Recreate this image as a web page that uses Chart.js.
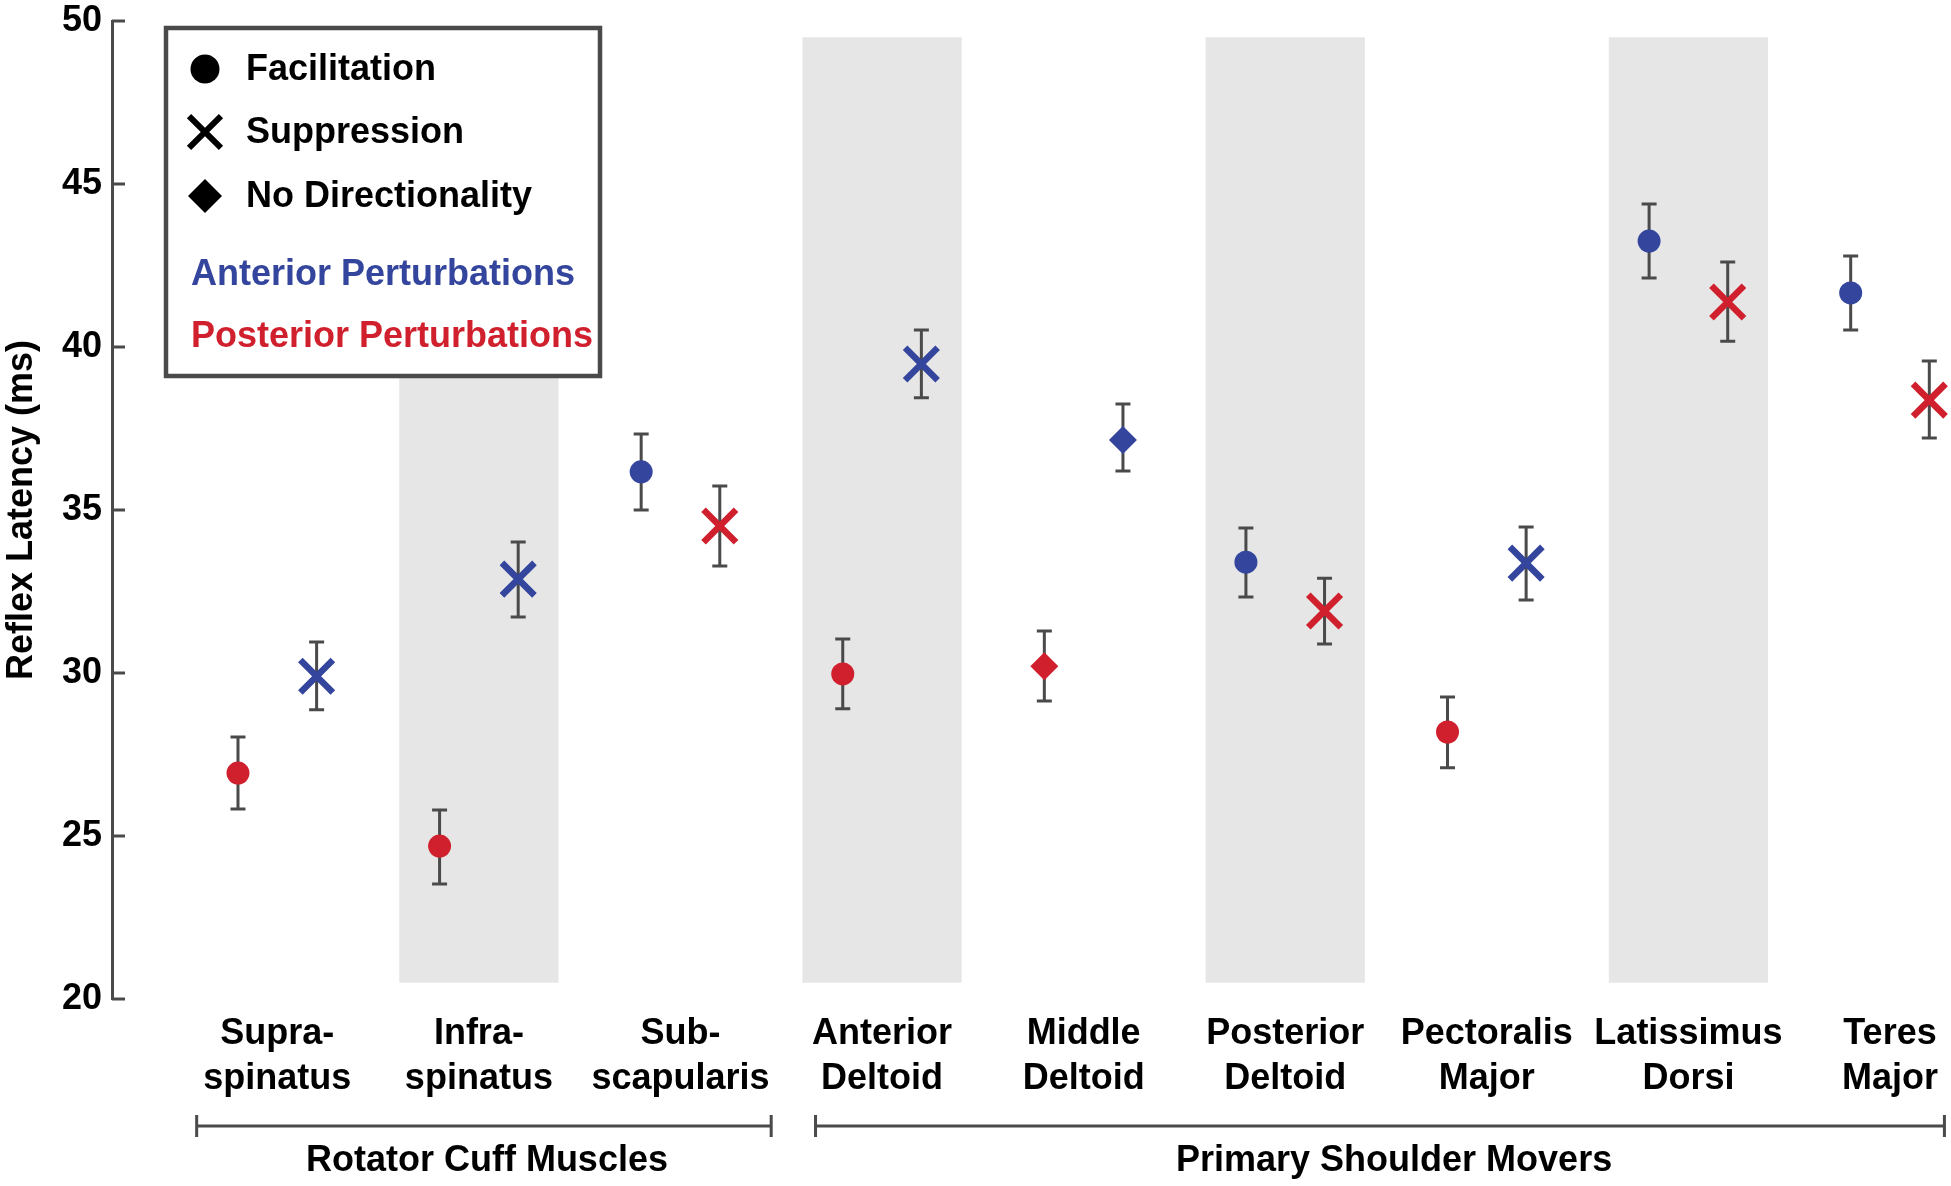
<!DOCTYPE html>
<html>
<head>
<meta charset="utf-8">
<title>Reflex Latency</title>
<script src="https://cdn.jsdelivr.net/npm/chart.js@4.4.1/dist/chart.umd.min.js"></script>
<style>
  html, body { margin: 0; padding: 0; background: #fff; overflow: hidden; }
  #wrap { width: 1951px; height: 1186px; position: relative; }
  canvas { display: block; }
</style>
</head>
<body>
<div id="wrap"><canvas id="latency-chart"></canvas></div>
<script>
var muscles = [["Supra-", "spinatus"], ["Infra-", "spinatus"], ["Sub-", "scapularis"],
  ["Anterior", "Deltoid"], ["Middle", "Deltoid"], ["Posterior", "Deltoid"],
  ["Pectoralis", "Major"], ["Latissimus", "Dorsi"], ["Teres", "Major"]];

// anterior perturbations (blue)
var anteriorLatency = [29.9, 32.88, 36.17, 39.48, 37.15, 33.4, 33.37, 43.25, 41.66];
var anteriorLow     = [28.87, 31.72, 35.0, 38.44, 36.2, 32.33, 32.24, 42.12, 40.52];
var anteriorHigh    = [30.95, 34.02, 37.33, 40.52, 38.25, 34.45, 34.48, 44.39, 42.79];
var anteriorType    = ["sup", "sup", "fac", "sup", "none", "fac", "sup", "fac", "fac"];

// posterior perturbations (red)
var posteriorLatency = [26.93, 24.69, 34.51, 29.97, 30.21, 31.9, 28.19, 41.38, 38.37];
var posteriorLow     = [25.83, 23.53, 33.28, 28.9, 29.14, 30.89, 27.09, 40.18, 37.21];
var posteriorHigh    = [28.04, 25.8, 35.74, 31.04, 31.29, 32.91, 29.26, 42.61, 39.57];
var posteriorType    = ["fac", "fac", "sup", "fac", "none", "sup", "fac", "sup", "sup"];

var yTicks = [20, 25, 30, 35, 40, 45, 50];
var shadedMuscles = [1, 3, 5, 7];
var groupNames = ["Rotator Cuff Muscles", "Primary Shoulder Movers"];
var groupFirst = [0, 3];
var groupLast = [2, 8];

//-------------------------------------------------
var BLUE = "#33459c";
var RED = "#d0202d";
var GREY = "#4a4a4a";
var FONT = '"Liberation Sans", Arial, Helvetica, sans-serif';
var pairOffset = 0.195;

var markerStyle = {
  fac:  { pointStyle: "circle",   radius: 11.5, borderWidth: 0 },
  sup:  { pointStyle: "crossRot", radius: 23,   borderWidth: 6.5 },
  none: { pointStyle: "rectRot",  radius: 14,   borderWidth: 0 }
};

function sideOf(type, isPosterior) {
  if (type == "fac") return -1;
  if (type == "sup") return 1;
  return isPosterior ? -1 : 1;
}

function makeDataset(label, values, low, high, types, color, isPosterior) {
  return {
    label: label,
    data: values.map(function (v, i) {
      return { x: i + sideOf(types[i], isPosterior) * pairOffset, y: v };
    }),
    errLow: low,
    errHigh: high,
    pointStyle: types.map(function (t) { return markerStyle[t].pointStyle; }),
    pointRadius: types.map(function (t) { return markerStyle[t].radius; }),
    pointHoverRadius: types.map(function (t) { return markerStyle[t].radius; }),
    pointBorderWidth: types.map(function (t) { return markerStyle[t].borderWidth; }),
    pointBackgroundColor: color,
    pointBorderColor: color,
    showLine: false,
    clip: false
  };
}

var bandPlugin = {
  id: "bands",
  beforeDatasetsDraw: function (chart) {
    var ctx = chart.ctx, xs = chart.scales.x, ys = chart.scales.y;
    ctx.save();
    ctx.fillStyle = "#e6e6e6";
    shadedMuscles.forEach(function (i) {
      var x0 = xs.getPixelForValue(i - 0.395), x1 = xs.getPixelForValue(i + 0.395);
      var y0 = ys.getPixelForValue(49.5), y1 = ys.getPixelForValue(20.5);
      ctx.fillRect(x0, y0, x1 - x0, y1 - y0);
    });
    ctx.restore();
  }
};

var errorBarPlugin = {
  id: "errorBars",
  beforeDatasetsDraw: function (chart) {
    var ctx = chart.ctx, ys = chart.scales.y;
    ctx.save();
    ctx.strokeStyle = GREY;
    ctx.lineWidth = 3;
    chart.data.datasets.forEach(function (ds, d) {
      var meta = chart.getDatasetMeta(d);
      meta.data.forEach(function (pt, j) {
        var yl = ys.getPixelForValue(ds.errLow[j]);
        var yh = ys.getPixelForValue(ds.errHigh[j]);
        ctx.beginPath();
        ctx.moveTo(pt.x, yl); ctx.lineTo(pt.x, yh);
        ctx.moveTo(pt.x - 7.5, yl); ctx.lineTo(pt.x + 7.5, yl);
        ctx.moveTo(pt.x - 7.5, yh); ctx.lineTo(pt.x + 7.5, yh);
        ctx.stroke();
      });
    });
    ctx.restore();
  }
};

var axisExtrasPlugin = {
  id: "axisExtras",
  afterDraw: function (chart) {
    var ctx = chart.ctx, xs = chart.scales.x, ys = chart.scales.y, area = chart.chartArea;
    ctx.save();
    // inward y ticks
    ctx.strokeStyle = GREY;
    ctx.lineWidth = 3;
    ys.ticks.forEach(function (t) {
      var py = ys.getPixelForValue(t.value);
      ctx.beginPath();
      ctx.moveTo(area.left, py);
      ctx.lineTo(area.left + 13, py);
      ctx.stroke();
    });
    // group brackets
    var pads = [[0.40, 0.45], [0.33, 0.27]];
    var by = area.bottom + 127;
    ctx.font = "bold 36px " + FONT;
    ctx.textAlign = "center";
    ctx.textBaseline = "middle";
    ctx.fillStyle = "#000";
    groupNames.forEach(function (name, g) {
      var x0 = xs.getPixelForValue(groupFirst[g] - pads[g][0]);
      var x1 = xs.getPixelForValue(groupLast[g] + pads[g][1]);
      ctx.beginPath();
      ctx.moveTo(x0, by); ctx.lineTo(x1, by);
      ctx.moveTo(x0, by - 11); ctx.lineTo(x0, by + 11);
      ctx.moveTo(x1, by - 11); ctx.lineTo(x1, by + 11);
      ctx.stroke();
      var xc = xs.getPixelForValue((groupFirst[g] + groupLast[g]) / 2 + 0.04);
      ctx.fillText(name, xc, area.bottom + 162);
    });
    ctx.restore();
  }
};

var legendPlugin = {
  id: "boxLegend",
  afterDraw: function (chart) {
    var ctx = chart.ctx;
    ctx.save();
    ctx.fillStyle = "#fff";
    ctx.fillRect(166, 28, 434, 348);
    ctx.strokeStyle = GREY;
    ctx.lineWidth = 4.5;
    ctx.strokeRect(166, 28, 434, 348);

    var rows = [
      { text: "Facilitation", style: "circle", radius: 14.5, bw: 0, y: 69 },
      { text: "Suppression", style: "crossRot", radius: 22.6, bw: 6, y: 132 },
      { text: "No Directionality", style: "rectRot", radius: 17, bw: 0, y: 196 }
    ];
    ctx.font = "bold 36px " + FONT;
    ctx.textAlign = "left";
    ctx.textBaseline = "middle";
    rows.forEach(function (r) {
      ctx.fillStyle = "#000";
      ctx.strokeStyle = "#000";
      ctx.lineWidth = r.bw;
      Chart.helpers.drawPoint(ctx, { pointStyle: r.style, radius: r.radius, borderWidth: r.bw, rotation: 0 }, 205, r.y);
      ctx.fillStyle = "#000";
      ctx.fillText(r.text, 246, r.y + 1);
    });
    ctx.fillStyle = BLUE;
    ctx.fillText("Anterior Perturbations", 191, 275);
    ctx.fillStyle = RED;
    ctx.fillText("Posterior Perturbations", 191, 337);
    ctx.restore();
  }
};

var latencyChart = new Chart(document.getElementById("latency-chart"), {
  type: "scatter",
  data: {
    datasets: [
      makeDataset("Posterior Perturbations", posteriorLatency, posteriorLow, posteriorHigh, posteriorType, RED, true),
      makeDataset("Anterior Perturbations", anteriorLatency, anteriorLow, anteriorHigh, anteriorType, BLUE, false)
    ]
  },
  options: {
    responsive: true,
    maintainAspectRatio: false,
    devicePixelRatio: 1,
    animation: false,
    layout: { autoPadding: false, padding: { top: 21, left: 0, right: 0, bottom: 0 } },
    plugins: { legend: { display: false }, tooltip: { enabled: false } },
    scales: {
      x: {
        type: "linear",
        min: -0.82,
        max: 8.26,
        grid: { display: false, drawTicks: false },
        border: { display: false },
        afterBuildTicks: function (scale) {
          scale.ticks = muscles.map(function (m, i) { return { value: i }; });
        },
        afterFit: function (scale) {
          scale.height = 187;
        },
        ticks: {
          autoSkip: false,
          maxRotation: 0,
          padding: 13,
          color: "#000",
          font: { family: FONT, size: 36, weight: "bold", lineHeight: 1.25 },
          callback: function (value) { return muscles[value]; }
        }
      },
      y: {
        min: 20,
        max: 50,
        grid: { display: false, drawTicks: false },
        border: { display: true, color: GREY, width: 3 },
        afterBuildTicks: function (scale) {
          scale.ticks = yTicks.map(function (v) { return { value: v }; });
        },
        afterFit: function (scale) {
          scale.width = 112;
        },
        ticks: {
          padding: 10,
          color: "#000",
          font: { family: FONT, size: 36, weight: "bold", lineHeight: 0.5 }
        },
        title: {
          display: true,
          text: "Reflex Latency (ms)",
          color: "#000",
          padding: 0,
          font: { family: FONT, size: 36, weight: "bold", lineHeight: 1.2 }
        }
      }
    }
  },
  plugins: [bandPlugin, errorBarPlugin, axisExtrasPlugin, legendPlugin]
});
</script>
</body>
</html>
